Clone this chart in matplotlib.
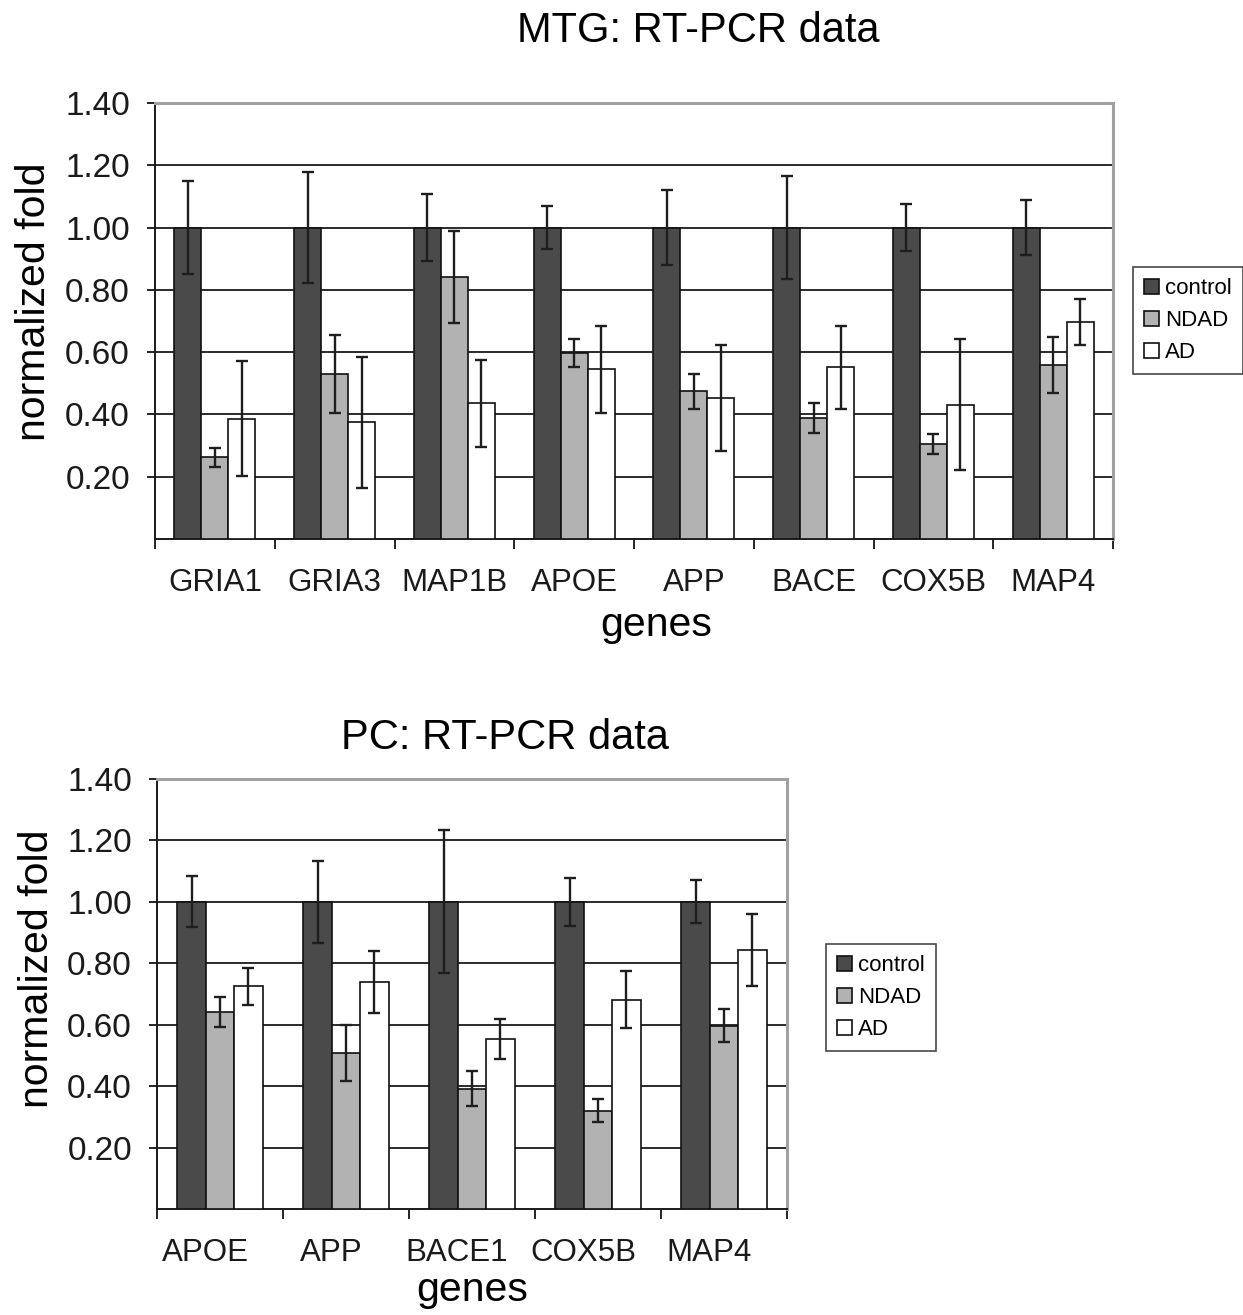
import numpy as np
import matplotlib
matplotlib.use("Agg")
import matplotlib.pyplot as plt
import matplotlib.transforms as mtransforms

plt.rcParams['font.family'] = ['Liberation Sans', 'DejaVu Sans']

# ─── Datos ─────────────────────────────────────────────────────────
series = ["control", "NDAD", "AD"]

mtg_genes = ["GRIA1", "GRIA3", "MAP1B", "APOE", "APP", "BACE", "COX5B", "MAP4"]
mtg_control = [1.00, 1.00, 1.00, 1.00, 1.00, 1.00, 1.00, 1.00]
mtg_control_err = [0.15, 0.177, 0.108, 0.07, 0.12, 0.165, 0.076, 0.088]
mtg_ndad = [0.262, 0.529, 0.840, 0.597, 0.474, 0.388, 0.305, 0.559]
mtg_ndad_err = [0.03, 0.125, 0.148, 0.045, 0.055, 0.048, 0.033, 0.09]
mtg_ad = [0.386, 0.375, 0.436, 0.545, 0.452, 0.551, 0.431, 0.698]
mtg_ad_err = [0.185, 0.21, 0.14, 0.14, 0.17, 0.134, 0.21, 0.074]

pc_genes = ["APOE", "APP", "BACE1", "COX5B", "MAP4"]
pc_control = [1.00, 1.00, 1.00, 1.00, 1.00]
pc_control_err = [0.083, 0.133, 0.233, 0.077, 0.07]
pc_ndad = [0.641, 0.508, 0.392, 0.320, 0.597]
pc_ndad_err = [0.05, 0.09, 0.057, 0.037, 0.054]
pc_ad = [0.725, 0.739, 0.554, 0.682, 0.842]
pc_ad_err = [0.06, 0.10, 0.064, 0.094, 0.117]

y_ticks = [0.20, 0.40, 0.60, 0.80, 1.00, 1.20, 1.40]

COLORES = ["#4a4a4a", "#b2b2b2", "#ffffff"]
GRIS_MARCO = "#a0a0a0"


def panel(fig, rect, genes, valores, errores, label_shift=0):
    ax = fig.add_axes(rect)
    n = len(genes)
    centros = np.arange(n) + 0.5
    ancho = 0.225
    for k, (vals, errs) in enumerate(zip(valores, errores)):
        ax.bar(centros + (k - 1) * ancho, vals, width=ancho, color=COLORES[k],
               edgecolor="#111111", linewidth=1.2, label=series[k], zorder=3,
               yerr=errs, error_kw=dict(ecolor="#1e1e1e", elinewidth=1.7,
                                        capsize=4.5, capthick=1.7, zorder=4))
    ax.set_xlim(0, n)
    ax.set_ylim(0, 1.40)
    ax.set_yticks(y_ticks)
    ax.set_yticklabels([f"{v:.2f}" for v in y_ticks])
    ax.set_xticks(np.arange(n + 1))
    ax.set_xticklabels([])
    ax.set_xticks(centros, minor=True)
    ax.set_xticklabels(genes, minor=True)
    ax.tick_params(axis="x", which="major", length=7, width=1.2, direction="out")
    ax.tick_params(axis="x", which="minor", length=0, pad=21, labelsize=22.5,
                   labelcolor="#1a1a1a")
    ax.tick_params(axis="y", length=6, width=1.2, direction="out", pad=12,
                   labelsize=24, labelcolor="#1a1a1a")
    if label_shift:
        off = mtransforms.ScaledTranslation(label_shift / 100, 0, fig.dpi_scale_trans)
        for lab in ax.get_xticklabels(minor=True):
            lab.set_transform(lab.get_transform() + off)
    ax.grid(axis="y", color="#1a1a1a", linewidth=1.3, zorder=0)
    ax.set_axisbelow(True)
    for lado in ["top", "right"]:
        ax.spines[lado].set_color(GRIS_MARCO)
        ax.spines[lado].set_linewidth(2.2)
    for lado in ["left", "bottom"]:
        ax.spines[lado].set_color("#1a1a1a")
        ax.spines[lado].set_linewidth(1.4)
    return ax


def leyenda(ax, x_px, y_px):
    leg = ax.legend(loc="upper left", bbox_to_anchor=(x_px / 1243, 1 - y_px / 1315),
                    bbox_transform=ax.figure.transFigure, fontsize=16,
                    frameon=True, fancybox=False, edgecolor="#1a1a1a",
                    handlelength=0.65, handleheight=0.65, handletextpad=0.3,
                    labelspacing=0.5, borderpad=0.5, borderaxespad=0)
    leg.get_frame().set_linewidth(1.2)
    return leg


fig = plt.figure(figsize=(12.43, 13.15), dpi=100)

# Panel superior: MTG
ax1 = panel(fig, [155 / 1243, 1 - 539 / 1315, 958 / 1243, 436 / 1315],
            mtg_genes, [mtg_control, mtg_ndad, mtg_ad],
            [mtg_control_err, mtg_ndad_err, mtg_ad_err])
ax1.set_ylabel("normalized fold", fontsize=29.5, va="center")
ax1.yaxis.set_label_coords(-0.126, 0.544)
ax1.set_xlabel("genes", fontsize=29.5, va="center")
ax1.xaxis.set_label_coords(0.523, -0.197)
fig.text(698 / 1243, 1 - 31 / 1315, "MTG: RT-PCR data", fontsize=30,
         ha="center", va="center")
leyenda(ax1, 1133, 267)

# Panel inferior: PC
ax2 = panel(fig, [157 / 1243, 1 - 1209 / 1315, 630 / 1243, 430 / 1315],
            pc_genes, [pc_control, pc_ndad, pc_ad],
            [pc_control_err, pc_ndad_err, pc_ad_err], label_shift=-15)
ax2.set_ylabel("normalized fold", fontsize=29.5, va="center")
ax2.yaxis.set_label_coords(-0.19, 0.558)
ax2.set_xlabel("genes", fontsize=29.5, va="center")
ax2.xaxis.set_label_coords(0.5, -0.188)
fig.text(505 / 1243, 1 - 738 / 1315, "PC: RT-PCR data", fontsize=30,
         ha="center", va="center")
leyenda(ax2, 826, 944)

fig.savefig("out.png", dpi=100)
